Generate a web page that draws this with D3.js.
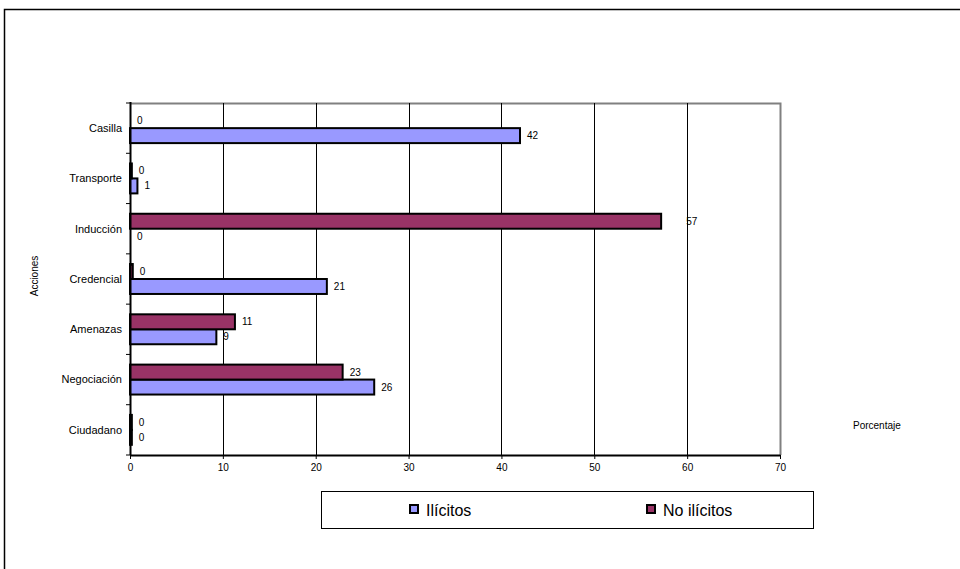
<!DOCTYPE html>
<html>
<head>
<meta charset="utf-8">
<script src="https://cdn.jsdelivr.net/npm/d3@7"></script>
<style>
  html, body { margin: 0; padding: 0; background: #fff; }
  svg { display: block; font-family: "Liberation Sans", Arial, sans-serif; }
</style>
</head>
<body>
<svg id="chart" width="960" height="569"></svg>
<script>
// Categories, top to bottom
const categories = ["Casilla", "Transporte", "Inducción", "Credencial", "Amenazas", "Negociación", "Ciudadano"];
// Percentages per series
const ilicitos   = [42.0, 0.8, 0.0, 21.2, 9.3, 26.3, 0.2];
const noIlicitos = [0.0, 0.2, 57.2, 0.3, 11.3, 22.9, 0.2];
const seriesNames = ["Ilícitos", "No ilícitos"];
const seriesColors = ["#9999FF", "#993366"];
const xTicks = [0, 10, 20, 30, 40, 50, 60, 70];
const xTitle = "Porcentaje";
const yTitle = "Acciones";

const svg = d3.select("#chart");

// outer frame
svg.append("rect")
  .attr("x", 4.5).attr("y", 9.5)
  .attr("width", 1000).attr("height", 600)
  .attr("fill", "none").attr("stroke", "#000").attr("stroke-width", 1.5);

const plot = { left: 130, right: 780, top: 103, bottom: 455 };

const x = d3.scaleLinear().domain([0, 70]).range([plot.left, plot.right]);
const y = d3.scaleBand().domain(categories).range([plot.top, plot.bottom]).padding(0);
// within a category: "No ilícitos" above, "Ilícitos" below
const inner = d3.scaleBand().domain(["No ilícitos", "Ilícitos"])
  .range([0, y.bandwidth()]).paddingInner(0).paddingOuter(0.68);

// plot area frame (top and right in gray)
svg.append("path")
  .attr("d", `M${plot.left},${plot.top + 0.5}H${plot.right + 0.5}V${plot.bottom}`)
  .attr("fill", "none").attr("stroke", "#808080").attr("stroke-width", 2);

// vertical gridlines
svg.append("g")
  .selectAll("line")
  .data(xTicks.filter(t => t > 0 && t < 70))
  .join("line")
  .attr("x1", d => Math.round(x(d)) + 0.5).attr("x2", d => Math.round(x(d)) + 0.5)
  .attr("y1", plot.top).attr("y2", plot.bottom)
  .attr("stroke", "#000").attr("stroke-width", 1);

// rows of data
const rows = categories.map((c, i) => ({
  cat: c,
  vals: [
    { name: "Ilícitos", v: ilicitos[i], color: seriesColors[0] },
    { name: "No ilícitos", v: noIlicitos[i], color: seriesColors[1] }
  ]
}));

const g = svg.append("g");
const bars = rows.flatMap(r => r.vals.map(d => ({ cat: r.cat, ...d })));

g.selectAll("rect.bar")
  .data(bars)
  .join("rect")
  .attr("class", "bar")
  .attr("x", x(0))
  .attr("y", d => y(d.cat) + inner(d.name))
  .attr("width", d => x(d.v) - x(0))
  .attr("height", inner.bandwidth())
  .attr("fill", d => d.color)
  .attr("stroke", "#000")
  .attr("stroke-width", d => d.v > 0.05 ? 2 : 0);

// value labels
const fmt = d3.format(".0f");
g.selectAll("text.lbl")
  .data(bars)
  .join("text")
  .attr("class", "lbl")
  .attr("x", d => x(d.v) + (d.v > 50 ? 25 : 7))
  .attr("y", d => y(d.cat) + inner(d.name) + inner.bandwidth() / 2)
  .attr("dy", "0.35em")
  .attr("font-size", 10)
  .attr("fill", "#000")
  .text(d => fmt(d.v));

// y axis
const yAxis = svg.append("g")
  .attr("transform", `translate(${plot.left},0)`);
yAxis.append("line")
  .attr("x1", 0.5).attr("x2", 0.5)
  .attr("y1", plot.top - 1).attr("y2", plot.bottom)
  .attr("stroke", "#000").attr("stroke-width", 2);
yAxis.selectAll("line.tick")
  .data(categories.map((c) => y(c)).concat([plot.bottom]))
  .join("line")
  .attr("class", "tick")
  .attr("x1", -4).attr("x2", 0)
  .attr("y1", d => d).attr("y2", d => d)
  .attr("stroke", "#000").attr("stroke-width", 1);
yAxis.selectAll("text")
  .data(categories)
  .join("text")
  .attr("x", -8)
  .attr("y", d => y(d) + y.bandwidth() / 2)
  .attr("dy", "0.35em")
  .attr("text-anchor", "end")
  .attr("font-size", 11)
  .attr("fill", "#000")
  .text(d => d);

// x axis
const xAxis = svg.append("g")
  .attr("transform", `translate(0,${plot.bottom})`)
  .call(d3.axisBottom(x).tickValues(xTicks).tickSize(4).tickSizeOuter(0).tickFormat(d3.format("d")));
xAxis.select(".domain").attr("stroke", "#000").attr("stroke-width", 2);
xAxis.selectAll(".tick line").attr("stroke", "#000");
xAxis.selectAll(".tick text")
  .attr("font-size", 10)
  .attr("font-family", "Liberation Sans, Arial, sans-serif")
  .attr("fill", "#000")
  .attr("dy", "0.9em");

// axis titles
svg.append("text")
  .attr("x", 853).attr("y", 425)
  .attr("dy", "0.35em")
  .attr("font-size", 10)
  .attr("fill", "#000")
  .text(xTitle);
svg.append("text")
  .attr("transform", `translate(34,${(plot.top + plot.bottom) / 2 - 3}) rotate(-90)`)
  .attr("text-anchor", "middle")
  .attr("dy", "0.35em")
  .attr("font-size", 10)
  .attr("fill", "#000")
  .text(yTitle);

// legend
const legend = svg.append("g");
legend.append("rect")
  .attr("x", 321.5).attr("y", 491.5)
  .attr("width", 492).attr("height", 37)
  .attr("fill", "#fff").attr("stroke", "#000").attr("stroke-width", 1);
const legendX = [410, 647];
seriesNames.forEach((name, i) => {
  legend.append("rect")
    .attr("x", legendX[i]).attr("y", 505)
    .attr("width", 8).attr("height", 8)
    .attr("fill", seriesColors[i])
    .attr("stroke", "#000").attr("stroke-width", 2);
  legend.append("text")
    .attr("x", legendX[i] + 16).attr("y", 510)
    .attr("dy", "0.35em")
    .attr("font-size", 16)
    .attr("fill", "#000")
    .text(name);
});
</script>
</body>
</html>
